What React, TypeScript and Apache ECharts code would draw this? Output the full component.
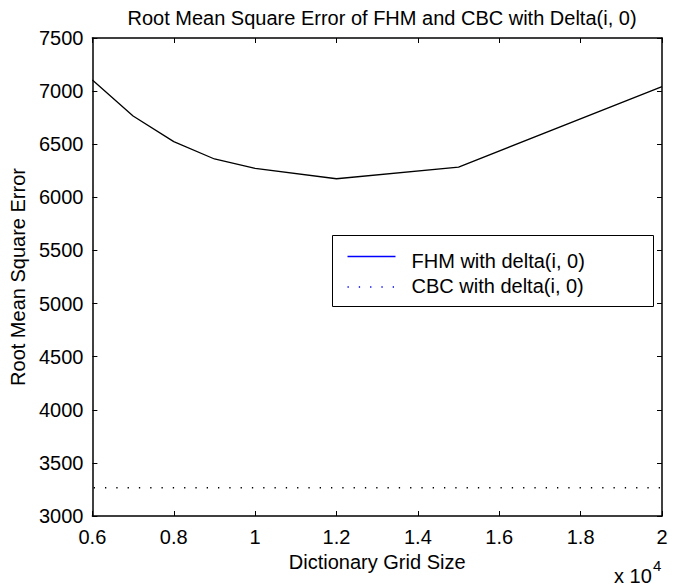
import React, { useEffect, useRef } from "react";
import * as echarts from "echarts";

const gridSizes = [6000, 7000, 8000, 9000, 10000, 12000, 15000, 20000];
const fhmValues = [7105, 6766, 6524, 6361, 6273, 6175, 6285, 7042];
const cbcValues = [3266, 3266, 3266, 3266, 3266, 3266, 3266, 3266];
const seriesNames = ["FHM with delta(i, 0)", "CBC with delta(i, 0)"];
const titleText = "Root Mean Square Error of FHM and CBC with Delta(i, 0)";
const xName = "Dictionary Grid Size";
const yName = "Root Mean Square Error";

const FONT = "'Liberation Sans', Arial, sans-serif";
const FS = 20;

export default function App() {
  const ref = useRef<HTMLDivElement>(null);
  useEffect(() => {
    if (!ref.current) return;
    const chart = echarts.init(ref.current, undefined, { renderer: "svg" });
    const axisLine = { show: true, lineStyle: { color: "#000", width: 1.5 } };
    const tick = { show: true, inside: true, length: 5, lineStyle: { color: "#000", width: 1 } };
    const fhm = gridSizes.map((x, i) => [x, fhmValues[i]]);
    const cbc = gridSizes.map((x, i) => [x, cbcValues[i]]);
    chart.setOption({
      animation: false,
      backgroundColor: "#fff",
      textStyle: { fontFamily: FONT },
      title: {
        text: titleText,
        left: 377,
        textAlign: "center",
        top: 3,
        textStyle: { fontFamily: FONT, fontSize: FS, fontWeight: "normal", color: "#000" },
      },
      grid: { left: 92, right: 22, top: 38, bottom: 71 },
      xAxis: [
        {
          type: "value",
          min: 6000,
          max: 20000,
          interval: 2000,
          name: xName,
          nameLocation: "middle",
          nameGap: 36,
          nameTextStyle: { fontFamily: FONT, fontSize: FS, color: "#000" },
          axisLine,
          axisTick: tick,
          splitLine: { show: false },
          axisLabel: {
            fontFamily: FONT,
            fontSize: FS,
            color: "#000",
            margin: 11,
            formatter: (v: number) => String(Number((v / 10000).toFixed(1))),
          },
        },
        {
          type: "value",
          position: "top",
          min: 6000,
          max: 20000,
          interval: 2000,
          axisLine,
          axisTick: tick,
          splitLine: { show: false },
          axisLabel: { show: false },
        },
      ],
      yAxis: [
        {
          type: "value",
          min: 3000,
          max: 7500,
          interval: 500,
          name: yName,
          nameLocation: "middle",
          nameGap: 57,
          nameTextStyle: { fontFamily: FONT, fontSize: FS, color: "#000" },
          axisLine,
          axisTick: tick,
          splitLine: { show: false },
          axisLabel: {
            fontFamily: FONT,
            fontSize: FS,
            color: "#000",
            margin: 9,
            formatter: (v: number) => String(v),
          },
        },
        {
          type: "value",
          position: "right",
          min: 3000,
          max: 7500,
          interval: 500,
          axisLine,
          axisTick: tick,
          splitLine: { show: false },
          axisLabel: { show: false },
        },
      ],
      series: [
        {
          name: seriesNames[0],
          type: "line",
          data: fhm,
          symbol: "none",
          lineStyle: { color: "#000", width: 1.3 },
        },
        {
          name: seriesNames[1],
          type: "line",
          data: cbc,
          symbol: "none",
          lineStyle: { color: "#000", width: 1.3, type: [1.3, 10], dashOffset: 9.6 },
        },
      ],
      graphic: [
        {
          type: "group",
          left: 332,
          top: 235,
          children: [
            {
              type: "rect",
              shape: { x: 0, y: 0, width: 321, height: 71 },
              style: { fill: "#fff", stroke: "#000", lineWidth: 1 },
            },
            {
              type: "line",
              shape: { x1: 15, y1: 21, x2: 63, y2: 21 },
              style: { stroke: "#0000ff", lineWidth: 1.3 },
            },
            {
              type: "line",
              shape: { x1: 15, y1: 51.5, x2: 63, y2: 51.5 },
              style: { stroke: "#0000ff", lineWidth: 1.3, lineDash: [1.3, 10] },
            },
            {
              type: "text",
              x: 79,
              y: 25,
              style: {
                text: seriesNames[0],
                font: `${FS}px ${FONT}`,
                fill: "#000",
                verticalAlign: "middle",
              },
            },
            {
              type: "text",
              x: 79,
              y: 50,
              style: {
                text: seriesNames[1],
                font: `${FS}px ${FONT}`,
                fill: "#000",
                verticalAlign: "middle",
              },
            },
          ],
        },
        {
          type: "text",
          left: 614,
          top: 566,
          style: { text: "x 10", font: `${FS}px ${FONT}`, fill: "#000" },
        },
        {
          type: "text",
          left: 653,
          top: 558,
          style: { text: "4", font: `15px ${FONT}`, fill: "#000" },
        },
      ],
    });
    return () => chart.dispose();
  }, []);
  return (
    <div
      ref={ref}
      style={{ position: "fixed", left: 0, top: 0, width: 684, height: 587 }}
    />
  );
}
